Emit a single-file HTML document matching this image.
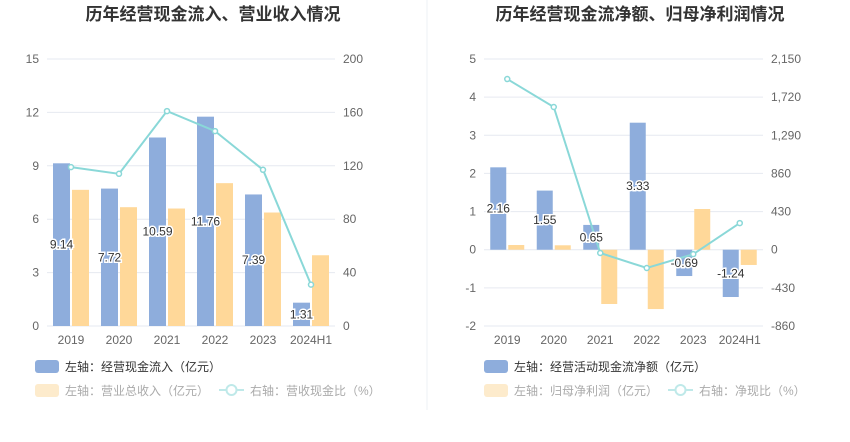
<!DOCTYPE html>
<html><head><meta charset="utf-8"><style>
body{margin:0;background:#fff;font-family:"Liberation Sans","Noto Sans CJK SC",sans-serif}
svg text{font-family:"Liberation Sans","Noto Sans CJK SC",sans-serif}
</style></head><body>
<svg id="s" width="850" height="437" xmlns="http://www.w3.org/2000/svg">
<rect width="850" height="437" fill="#fff"/>
<line x1="427" y1="0" x2="427" y2="410" stroke="#eef0f4"/>
</svg>
<script>
const cats=["2019","2020","2021","2022","2023","2024H1"];
const inflow=[9.14,7.72,10.59,11.76,7.39,1.31];
const revenue=[102,89,88,107,85,53];
const cashRatio=[119,114,161,146,117,31];
const netCash=[2.16,1.55,0.65,3.33,-0.69,-1.24];
const netProfit=[53,50,-612,-669,459,-172];
const netRatio=[1924,1609,-37,-206,-50,300];
const leftTicks1=[0,3,6,9,12,15], rightTicks1=[0,40,80,120,160,200];
const leftTicks2=[-2,-1,0,1,2,3,4,5], rightTicks2=[-860,-430,0,430,860,1290,1720,2150];
const NS="http://www.w3.org/2000/svg", svg=document.getElementById('s');
function el(t,a,txt){const e=document.createElementNS(NS,t);for(const k in a)e.setAttribute(k,a[k]);if(txt!=null)e.textContent=txt;svg.appendChild(e);return e;}
function chart(o){
  const top=59,bot=326;
  const yL=v=>bot-(v-o.lmin)/(o.lmax-o.lmin)*(bot-top);
  const yR=v=>bot-(v-o.rmin)/(o.rmax-o.rmin)*(bot-top);
  const cw=(o.x1-o.x0)/cats.length, cx=i=>o.x0+cw*(i+0.5);
  let t=el('text',{x:o.tx,y:20,'text-anchor':'middle','font-size':17,'font-weight':'bold',fill:'#333'},o.title);
  
  o.lt.forEach(v=>{let g=el('line',{x1:o.x0,x2:o.x1,y1:yL(v),y2:yL(v),stroke:'#e6e9f0'});
    
    let a=el('text',{x:o.x0-8,y:yL(v)+4,'text-anchor':'end','font-size':12,fill:'#666'},v);
    });
  o.rt.forEach(v=>{let a=el('text',{x:o.x1+8,y:yR(v)+4,'font-size':12,fill:'#666'},v.toLocaleString('en-US'));
    });
  cats.forEach((c,i)=>{let a=el('text',{x:cx(i),y:bot+18,'text-anchor':'middle','font-size':12,fill:'#666'},c);
    });
  const bw=o.bw;
  cats.forEach((c,i)=>{
    let v=o.b1[i],y0=yL(0),y1=yL(v);
    let r=el('rect',{x:cx(i)-bw-1,y:Math.min(y0,y1),width:bw,height:Math.abs(y1-y0),fill:'#8eaddc'});
    
    let w=o.b2[i],z0=yR(0),z1=yR(w);
    let r2=el('rect',{x:cx(i)+1,y:Math.min(z0,z1),width:bw,height:Math.abs(z1-z0),fill:'#ffd899'});
    
  });
  let pts=cats.map((c,i)=>cx(i)+','+yR(o.ln[i])).join(' ');
  let pl=el('polyline',{points:pts,fill:'none',stroke:'#8ad8d8','stroke-width':2});
  
  cats.forEach((c,i)=>{let p=el('circle',{cx:cx(i),cy:yR(o.ln[i]),r:2.5,fill:'#fff',stroke:'#8ad8d8','stroke-width':1.5});
    });
  cats.forEach((c,i)=>{let v=o.b1[i];
    let a=el('text',{x:cx(i)-bw/2-1,y:(yL(0)+yL(v))/2+4,'text-anchor':'middle','font-size':12,fill:'#333',stroke:'#fff','stroke-width':3,'paint-order':'stroke'},v.toFixed(2));
    });
  const L=o.lg;
  let k=el('rect',{x:L,y:360,width:24,height:13,rx:3,fill:'#8eaddc'});
  k=el('text',{x:L+30,y:371,'font-size':12,fill:'#333'},o.l1);
  k=el('rect',{x:L,y:384,width:24,height:13,rx:3,fill:'#fdebcc'});
  k=el('text',{x:L+30,y:395,'font-size':12,fill:'#aaa'},o.l2);
  k=el('line',{x1:o.lx,x2:o.lx+25,y1:390,y2:390,stroke:'#bfe9e9','stroke-width':2});
  k=el('circle',{cx:o.lx+12.5,cy:390,r:5,fill:'#fff',stroke:'#bfe9e9','stroke-width':2});
  k=el('text',{x:o.lx+31,y:395,'font-size':12,fill:'#aaa'},o.l3);
}
chart({p:'left',title:'历年经营现金流入、营业收入情况',tx:213,x0:47,x1:335,lmin:0,lmax:15,rmin:0,rmax:200,lt:leftTicks1,rt:rightTicks1,b1:inflow,b2:revenue,ln:cashRatio,bw:17,lg:35,
  l1:'左轴：经营现金流入（亿元）',l2:'左轴：营业总收入（亿元）',l3:'右轴：营收现金比（%）',lx:219});
chart({p:'right',title:'历年经营现金流净额、归母净利润情况',tx:640,x0:484,x1:763,lmin:-2,lmax:5,rmin:-860,rmax:2150,lt:leftTicks2,rt:rightTicks2,b1:netCash,b2:netProfit,ln:netRatio,bw:16,lg:484,
  l1:'左轴：经营活动现金流净额（亿元）',l2:'左轴：归母净利润（亿元）',l3:'右轴：净现比（%）',lx:668});
</script>
</body></html>
